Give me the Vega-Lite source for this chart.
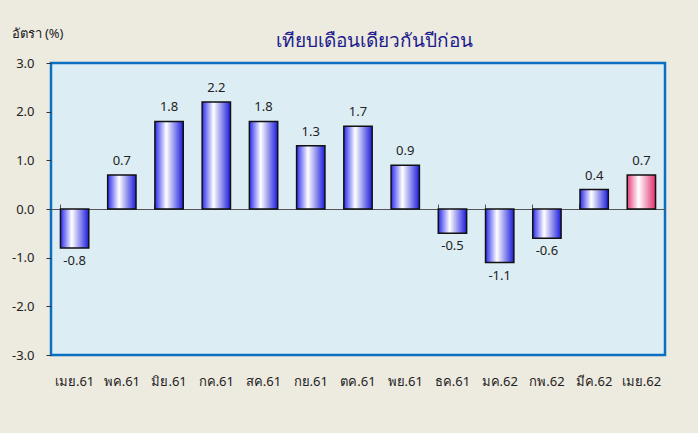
{
  "$schema": "https://vega.github.io/schema/vega-lite/v6.json",
  "width": 614,
  "height": 292,
  "autosize": {"type": "none"},
  "padding": {"left": 51, "top": 63, "right": 33, "bottom": 78},
  "background": "#EDEAE0",
  "title": {
    "text": "เทียบเดือนเดียวกันปีก่อน",
    "fontSize": 19,
    "fontWeight": "normal",
    "color": "#1C1C8C",
    "font": "Tahoma, Noto Sans, sans-serif",
    "anchor": "middle",
    "dx": 16,
    "offset": -24
  },
  "config": {
    "locale": {"number": {"decimal": ".", "thousands": ",", "grouping": [3], "currency": ["", ""], "minus": "-"}},
    "view": {"fill": "#DCEDF4", "stroke": "#0B6FC2", "strokeWidth": 2.5},
    "font": "Tahoma, Noto Sans, sans-serif",
    "axis": {"labelFont": "Tahoma, Noto Sans, sans-serif", "labelFontSize": 13, "labelColor": "#222222", "grid": false}
  },
  "data": {
    "values": [
      {"month": "เมย.61", "value": -0.8, "group": "past"},
      {"month": "พค.61", "value": 0.7, "group": "past"},
      {"month": "มิย.61", "value": 1.8, "group": "past"},
      {"month": "กค.61", "value": 2.2, "group": "past"},
      {"month": "สค.61", "value": 1.8, "group": "past"},
      {"month": "กย.61", "value": 1.3, "group": "past"},
      {"month": "ตค.61", "value": 1.7, "group": "past"},
      {"month": "พย.61", "value": 0.9, "group": "past"},
      {"month": "ธค.61", "value": -0.5, "group": "past"},
      {"month": "มค.62", "value": -1.1, "group": "past"},
      {"month": "กพ.62", "value": -0.6, "group": "past"},
      {"month": "มีค.62", "value": 0.4, "group": "past"},
      {"month": "เมย.62", "value": 0.7, "group": "latest"}
    ]
  },
  "encoding": {
    "x": {
      "field": "month",
      "type": "nominal",
      "sort": null,
      "scale": {"paddingInner": 0.4, "paddingOuter": 0.2}
    },
    "y": {
      "field": "value",
      "type": "quantitative",
      "scale": {"domain": [-3, 3], "nice": false},
      "axis": {
        "values": [-3, -2, -1, 0, 1, 2, 3],
        "format": ".1f",
        "tickSize": 5,
        "tickColor": "#333333",
        "domain": false,
        "labelPadding": 12,
        "title": "อัตรา (%)",
        "titleAngle": 0,
        "titleX": -40,
        "titleY": -30,
        "titleAlign": "left",
        "titleBaseline": "middle",
        "titleFontSize": 13,
        "titleFontWeight": "normal",
        "titleColor": "#222222"
      }
    }
  },
  "layer": [
    {
      "transform": [{"filter": "datum.group == 'past'"}],
      "mark": {
        "type": "bar",
        "stroke": "#111111",
        "strokeWidth": 1.5,
        "color": {
          "gradient": "linear",
          "x1": 0, "x2": 1, "y1": 0, "y2": 0,
          "stops": [
            {"offset": 0, "color": "#2A2AEE"},
            {"offset": 0.4, "color": "#FFFFFF"},
            {"offset": 1, "color": "#1C1CDC"}
          ]
        }
      },
      "encoding": {
        "x": {
          "field": "month", "type": "nominal", "sort": null,
          "axis": {"title": null, "ticks": false, "domain": false, "labelPadding": 20, "labelAngle": 0}
        }
      }
    },
    {
      "transform": [{"filter": "datum.group == 'latest'"}],
      "mark": {
        "type": "bar",
        "stroke": "#111111",
        "strokeWidth": 1.5,
        "color": {
          "gradient": "linear",
          "x1": 0, "x2": 1, "y1": 0, "y2": 0,
          "stops": [
            {"offset": 0, "color": "#E63C78"},
            {"offset": 0.4, "color": "#FFFFFF"},
            {"offset": 1, "color": "#E02F6E"}
          ]
        }
      },
      "encoding": {
        "x": {
          "field": "month", "type": "nominal", "sort": null,
          "axis": {"title": null, "labels": false, "ticks": true, "tickSize": 5, "tickColor": "#555555", "bandPosition": 0, "domain": true, "domainColor": "#555555", "offset": -146}
        }
      }
    },
    {
      "transform": [{"filter": "datum.value >= 0"}],
      "mark": {"type": "text", "baseline": "bottom", "dy": -7, "fontSize": 13, "color": "#222222"},
      "encoding": {
        "x": {"field": "month", "type": "nominal", "sort": null, "axis": null},
        "text": {"field": "value", "type": "quantitative", "format": ".1f"}
      }
    },
    {
      "transform": [{"filter": "datum.value < 0"}],
      "mark": {"type": "text", "baseline": "top", "dy": 7, "fontSize": 13, "color": "#222222"},
      "encoding": {
        "x": {"field": "month", "type": "nominal", "sort": null, "axis": null},
        "text": {"field": "value", "type": "quantitative", "format": ".1f"}
      }
    }
  ],
  "resolve": {"axis": {"x": "independent"}}
}
